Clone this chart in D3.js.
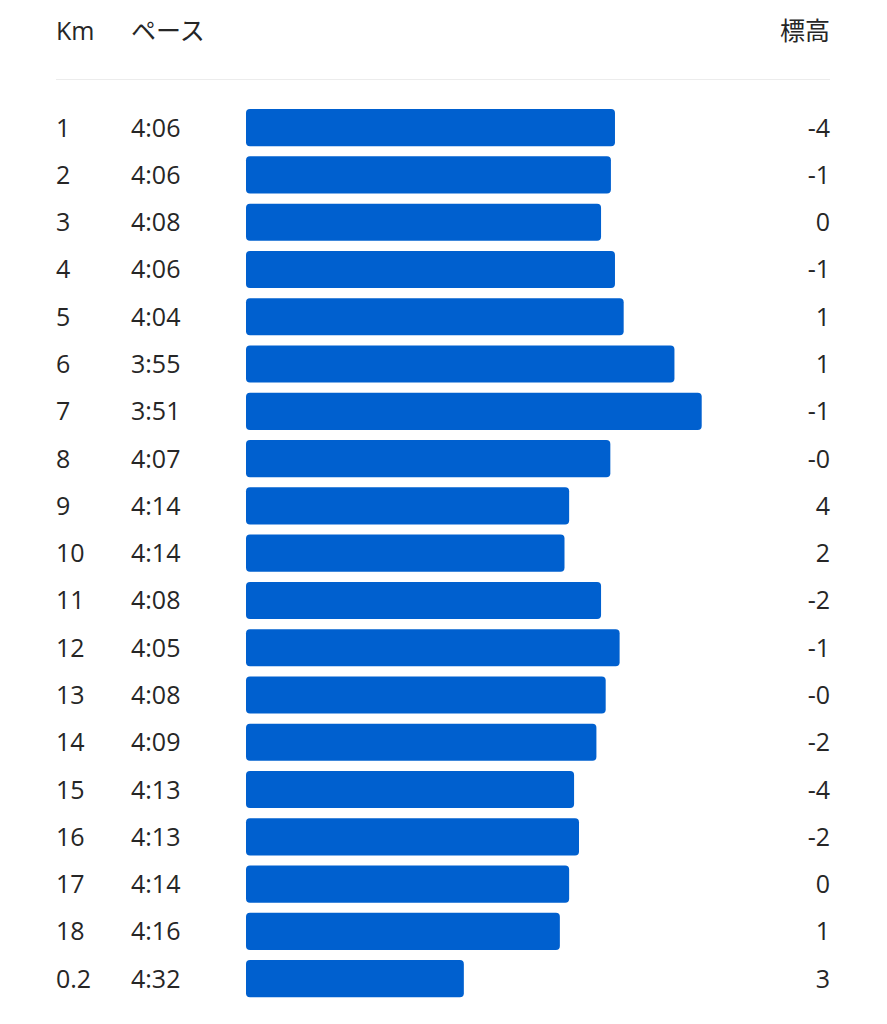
<!DOCTYPE html>
<html><head><meta charset="utf-8">
<script src="https://cdn.jsdelivr.net/npm/d3@7"></script>
<style>
html,body{margin:0;padding:0;background:#fff;}
svg{display:block;}
text{font-family:"Open Sans","Noto Sans","Noto Sans CJK JP",sans-serif;fill:#262626;}
</style></head>
<body>
<svg id="chart" width="887" height="1024"></svg>
<script>
const kmLabels = ["1","2","3","4","5","6","7","8","9","10","11","12","13","14","15","16","17","18","0.2"];
const paces = ["4:06","4:06","4:08","4:06","4:04","3:55","3:51","4:07","4:14","4:14","4:08","4:05","4:08","4:09","4:13","4:13","4:14","4:16","4:32"];
// pace used for bar length (seconds per km, estimated with sub-second precision from bar lengths)
const paceSeconds = [246.0,246.7,248.4,246.0,244.5,235.75,231.05,246.8,253.9,254.7,248.4,245.2,247.6,249.2,253.05,252.2,253.9,255.5,272.05];
const elevations = ["-4","-1","0","-1","1","1","-1","-0","4","2","-2","-1","-0","-2","-4","-2","0","1","3"];
const headers = ["Km","ペース","標高"];

const svg = d3.select("#chart");
const left = 56, right = 830, paceX = 131, barX = 246;
const rowTop = 104, rowStep = 47.28;

const y = d3.scaleBand().domain(d3.range(kmLabels.length))
  .range([rowTop, rowTop + rowStep*kmLabels.length]).paddingInner(0.215).paddingOuter(0.1075);
const x = d3.scaleLinear().domain([309.6, 231]).range([0, 456]);

const fs = 25;
// header
svg.append("text").attr("x", left).attr("y", 40).attr("font-size", fs).text(headers[0]);
svg.append("text").attr("x", paceX).attr("y", 40).attr("font-size", fs).text(headers[1]);
svg.append("text").attr("x", right).attr("y", 40).attr("font-size", fs).attr("text-anchor","end").text(headers[2]);
svg.append("line").attr("x1", left).attr("x2", right).attr("y1", 79.5).attr("y2", 79.5)
  .attr("stroke", "#ececec").attr("stroke-width", 1);

const rows = svg.append("g").selectAll("g").data(kmLabels).join("g")
  .attr("transform", (d,i) => `translate(0,${y(i)})`);
const bh = y.bandwidth();
rows.append("rect").attr("x", barX).attr("y", 0).attr("height", bh)
  .attr("width", (d,i) => x(paceSeconds[i])).attr("rx", 4).attr("fill", "#0060cf");
rows.append("text").attr("x", left).attr("y", bh/2 + 9).attr("font-size", fs).text(d => d);
rows.append("text").attr("x", paceX).attr("y", bh/2 + 9).attr("font-size", fs).text((d,i) => paces[i]);
rows.append("text").attr("x", right).attr("y", bh/2 + 9).attr("font-size", fs).attr("text-anchor","end").text((d,i) => elevations[i]);
</script>
</body></html>
